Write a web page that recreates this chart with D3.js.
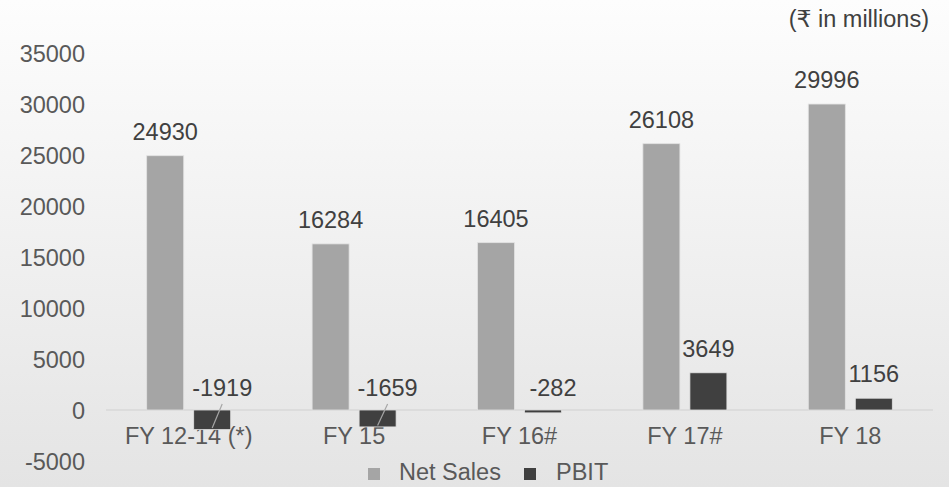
<!DOCTYPE html>
<html>
<head>
<meta charset="utf-8">
<script src="https://cdn.jsdelivr.net/npm/d3@7"></script>
<style>
  html, body { margin: 0; padding: 0; }
  body { width: 949px; height: 487px; overflow: hidden; }
  svg text { font-family: "Liberation Sans", Arial, "DejaVu Sans", sans-serif; }
</style>
</head>
<body>
<div id="chart"></div>
<script>
// data
const categories = ['FY 12-14 (*)', 'FY 15', 'FY 16#', 'FY 17#', 'FY 18']
const seriesNames = ['Net Sales', 'PBIT']
const netSales = [24930, 16284, 16405, 26108, 29996]
const pbit = [-1919, -1659, -282, 3649, 1156]
const yTicks = [-5000, 0, 5000, 10000, 15000, 20000, 25000, 30000, 35000]

const width = 949; const height = 487
const colors = { 'Net Sales': '#a5a5a5', 'PBIT': '#404040' }
const fontSize = 23.5

// negative labels were nudged to the right in the original
const negLabelShift = 10

const svg = d3.select('#chart').append('svg')
  .attr('width', width).attr('height', height)

// background gradient
const grad = svg.append('defs').append('linearGradient')
  .attr('id', 'bg').attr('x1', 0).attr('y1', 0).attr('x2', 0).attr('y2', 1)
grad.append('stop').attr('offset', '0%').attr('stop-color', '#fdfdfd')
grad.append('stop').attr('offset', '100%').attr('stop-color', '#e4e4e4')
svg.append('rect').attr('width', width).attr('height', height).attr('fill', 'url(#bg)')

const x = d3.scaleBand()
  .domain(categories)
  .range([106, 933])

const x1 = d3.scaleBand()
  .domain(seriesNames)
  .range([x.bandwidth() / 2 - 42, x.bandwidth() / 2 + 42])
  .paddingInner(10 / 47)

const y = d3.scaleLinear()
  .domain([-5000, 35000])
  .range([461, 53])

// left axis (labels only), plain hyphen for the minus like the original
const yAxis = d3.axisLeft(y).tickValues(yTicks).tickSize(0).tickPadding(0)
  .tickFormat(d => String(d))
svg.append('g')
  .attr('transform', 'translate(85,0)')
  .call(yAxis)
  .call(g => g.select('.domain').remove())
  .selectAll('text')
  .attr('font-size', fontSize)
  .attr('font-family', '"Liberation Sans", Arial, sans-serif')
  .attr('fill', '#595959')
  .attr('dy', '0.35em')

// zero line
svg.append('line')
  .attr('x1', x.range()[0]).attr('x2', x.range()[1])
  .attr('y1', y(0)).attr('y2', y(0))
  .attr('stroke', '#d9d9d9').attr('stroke-width', 1.5)

// bottom category labels
svg.append('g')
  .selectAll('text')
  .data(categories)
  .join('text')
  .attr('x', d => x(d) + x.bandwidth() / 2)
  .attr('y', 444)
  .attr('text-anchor', 'middle')
  .attr('font-size', fontSize)
  .attr('fill', '#595959')
  .text(d => d)

const rows = categories.map((c, i) => ({ cat: c, 'Net Sales': netSales[i], 'PBIT': pbit[i] }))

const groups = svg.selectAll('g.cat')
  .data(rows)
  .join('g')
  .attr('class', 'cat')
  .attr('transform', d => 'translate(' + x(d.cat) + ',0)')

const cells = groups.selectAll('g.cell')
  .data(d => seriesNames.map(s => ({ key: s, value: d[s] })))
  .join('g')
  .attr('class', 'cell')

cells.append('rect')
  .attr('x', d => x1(d.key))
  .attr('width', x1.bandwidth())
  .attr('y', d => y(Math.max(0, d.value)))
  .attr('height', d => Math.abs(y(d.value) - y(0)))
  .attr('fill', d => colors[d.key])
  .attr('stroke', '#e2e2e2')
  .attr('stroke-width', 0.8)

// value labels
cells.append('text')
  .attr('x', d => x1(d.key) + x1.bandwidth() / 2 + (d.value < 0 ? negLabelShift : 0))
  .attr('y', d => d.value < 0 ? y(0) - 14 : y(d.value) - 16)
  .attr('text-anchor', 'middle')
  .attr('font-size', fontSize)
  .attr('fill', '#404040')
  .text(d => d.value)

// leader lines for negative labels whose bar is tall enough
cells.filter(d => d.value < 0 && y(d.value) - y(0) > 10)
  .append('line')
  .attr('x1', d => x1(d.key) + x1.bandwidth() / 2 + negLabelShift)
  .attr('y1', y(0) - 6)
  .attr('x2', d => x1(d.key) + x1.bandwidth() / 2)
  .attr('y2', d => y(d.value) - 1.5)
  .attr('stroke', '#a6a6a6')
  .attr('stroke-width', 1.2)

// unit note
svg.append('text')
  .attr('x', 929).attr('y', 27)
  .attr('text-anchor', 'end')
  .attr('font-size', fontSize)
  .attr('fill', '#404040')
  .text('(₹ in millions)')

// legend
const legendItems = [
  { key: 'Net Sales', sq: 368, tx: 399 },
  { key: 'PBIT', sq: 524, tx: 556 }
]
const legend = svg.append('g')
legend.selectAll('rect')
  .data(legendItems)
  .join('rect')
  .attr('x', d => d.sq).attr('y', 468)
  .attr('width', 12).attr('height', 12)
  .attr('fill', d => colors[d.key])
legend.selectAll('text')
  .data(legendItems)
  .join('text')
  .attr('x', d => d.tx).attr('y', 480)
  .attr('font-size', fontSize)
  .attr('fill', '#595959')
  .text(d => d.key)
</script>
</body>
</html>
